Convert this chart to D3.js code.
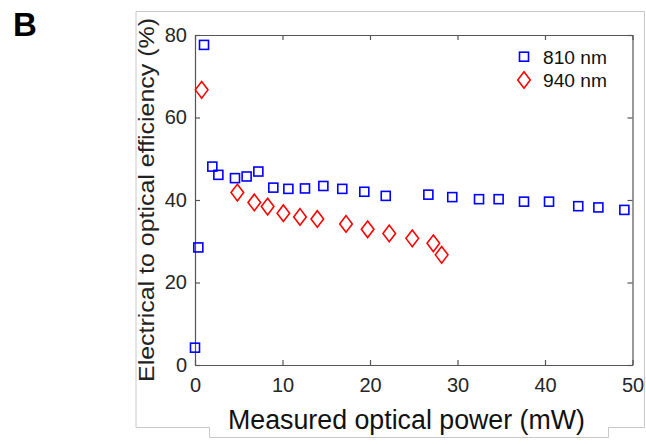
<!DOCTYPE html>
<html>
<head>
<meta charset="utf-8">
<script src="https://cdn.jsdelivr.net/npm/d3@7"></script>
<style>
  body { margin: 0; background: #fff; }
  svg { display: block; font-family: "Liberation Sans", Arial, Helvetica, sans-serif; }
  .axis path, .axis line { stroke: #555; stroke-width: 1.2; }
  .axis text { fill: #262626; font-size: 20px; }
</style>
</head>
<body>
<svg id="chart" width="646" height="444"></svg>
<script>
// 810 nm series
var power810 = [0.0, 0.38, 1.03, 1.98, 2.67, 4.57, 5.9, 7.24, 8.95, 10.67, 12.57, 14.67, 16.83,
                19.35, 21.8, 26.67, 29.4, 32.46, 34.7, 37.6, 40.46, 43.8, 46.1, 49.07];
var eff810 = [4.2, 28.5, 77.6, 48.1, 46.1, 45.3, 45.7, 46.9, 43.0, 42.7, 42.8, 43.4, 42.7,
              42.0, 41.0, 41.3, 40.7, 40.2, 40.2, 39.6, 39.6, 38.5, 38.2, 37.6];

// 940 nm series
var power940 = [0.76, 4.84, 6.78, 8.3, 10.1, 12.0, 13.98, 17.26, 19.73, 22.2, 24.83, 27.24, 28.19];
var eff940 = [66.7, 41.8, 39.4, 38.4, 36.8, 35.9, 35.4, 34.2, 32.9, 31.9, 30.7, 29.5, 26.7];

var xTicks = [0, 10, 20, 30, 40, 50];
var yTicks = [0, 20, 40, 60, 80];
var legendLabels = ["810 nm", "940 nm"];

var svg = d3.select("#chart");

var plotLeft = 195, plotRight = 632.5, plotTop = 35, plotBottom = 365;

var x = d3.scaleLinear().domain([0, 50]).range([plotLeft, plotRight]);
var y = d3.scaleLinear().domain([0, 80]).range([plotBottom, plotTop]);

// screenshot frame
svg.append("path")
    .attr("d", "M136,11.5 H644.5 V427.5 H608.5 V437.5 H209.5 V427.5 H136 Z")
    .attr("fill", "none")
    .attr("stroke", "#c8c8c8")
    .attr("stroke-width", 1);

// panel letter
svg.append("text")
    .attr("x", 13)
    .attr("y", 36)
    .attr("font-size", 33)
    .attr("font-weight", "bold")
    .attr("fill", "#000")
    .text("B");

// axes (box on, ticks inward)
svg.append("g")
    .attr("class", "axis")
    .attr("transform", "translate(0," + plotBottom + ")")
    .call(d3.axisBottom(x).tickValues(xTicks).tickSizeInner(-5).tickSizeOuter(0).tickPadding(13));

svg.append("g")
    .attr("class", "axis")
    .attr("transform", "translate(0," + plotTop + ")")
    .call(d3.axisTop(x).tickValues(xTicks).tickSizeInner(-5).tickSizeOuter(0).tickFormat(""));

svg.append("g")
    .attr("class", "axis")
    .attr("transform", "translate(" + plotLeft + ",0)")
    .call(d3.axisLeft(y).tickValues(yTicks).tickSizeInner(-5).tickSizeOuter(0).tickPadding(8));

svg.append("g")
    .attr("class", "axis")
    .attr("transform", "translate(" + plotRight + ",0)")
    .call(d3.axisRight(y).tickValues(yTicks).tickSizeInner(-5).tickSizeOuter(0).tickFormat(""));

// axis titles
svg.append("text")
    .attr("x", (228 + 585) / 2)
    .attr("y", 429)
    .attr("text-anchor", "middle")
    .attr("font-size", 27)
    .attr("fill", "#111")
    .attr("textLength", 357)
    .attr("lengthAdjust", "spacingAndGlyphs")
    .text("Measured optical power (mW)");

svg.append("text")
    .attr("transform", "translate(154,200) rotate(-90)")
    .attr("text-anchor", "middle")
    .attr("font-size", 22)
    .attr("fill", "#222")
    .attr("textLength", 364)
    .attr("lengthAdjust", "spacingAndGlyphs")
    .text("Electrical to optical efficiency (%)");

// markers
var sq = 9;
svg.append("g").selectAll("rect")
    .data(d3.range(power810.length))
    .join("rect")
    .attr("x", function(i) { return x(power810[i]) - sq / 2; })
    .attr("y", function(i) { return y(eff810[i]) - sq / 2; })
    .attr("width", sq)
    .attr("height", sq)
    .attr("fill", "none")
    .attr("stroke", "#0000ff")
    .attr("stroke-width", 1.6);

function diamond(cx, cy) {
  var w = 6.3, h = 8.3;
  return "M" + cx + "," + (cy - h) + " L" + (cx + w) + "," + cy +
         " L" + cx + "," + (cy + h) + " L" + (cx - w) + "," + cy + " Z";
}

svg.append("g").selectAll("path")
    .data(d3.range(power940.length))
    .join("path")
    .attr("d", function(i) { return diamond(x(power940[i]), y(eff940[i])); })
    .attr("fill", "none")
    .attr("stroke", "#ff0000")
    .attr("stroke-width", 1.6);

// legend
var legend = svg.append("g");
legend.append("rect")
    .attr("x", 524 - 4.5).attr("y", 56.7 - 4.5)
    .attr("width", 9).attr("height", 9)
    .attr("fill", "none").attr("stroke", "#0000ff").attr("stroke-width", 1.6);
legend.append("path")
    .attr("d", diamond(524, 80))
    .attr("fill", "none").attr("stroke", "#ff0000").attr("stroke-width", 1.6);
legend.selectAll("text.lg")
    .data(legendLabels)
    .join("text")
    .attr("class", "lg")
    .attr("x", 543)
    .attr("y", function(d, i) { return 64 + i * 23; })
    .attr("font-size", 17.5)
    .attr("fill", "#111")
    .attr("textLength", 64)
    .attr("lengthAdjust", "spacingAndGlyphs")
    .text(function(d) { return d; });
</script>
</body>
</html>
